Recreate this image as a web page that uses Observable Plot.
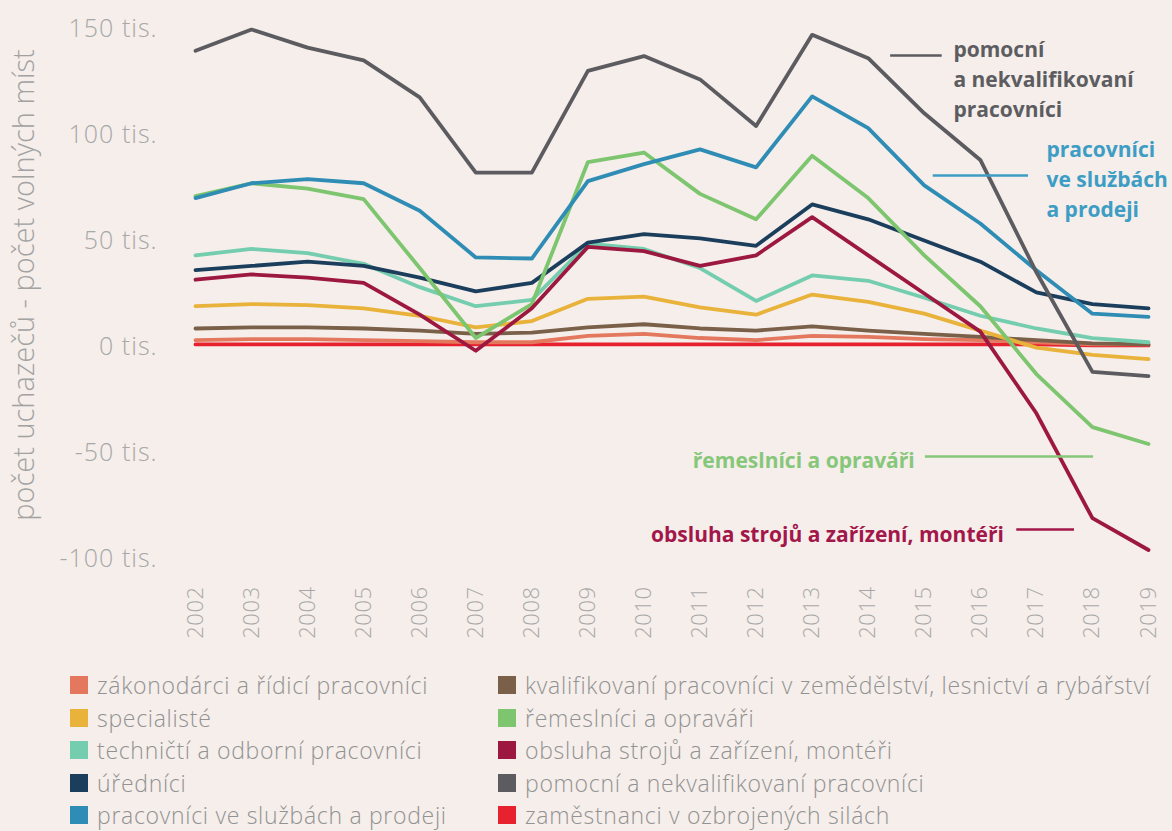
<!DOCTYPE html>
<html lang="cs">
<head>
<meta charset="utf-8">
<script src="https://cdn.jsdelivr.net/npm/d3@7"></script>
<script src="https://cdn.jsdelivr.net/npm/@observablehq/plot@0.6"></script>
<style>
  html, body { margin: 0; padding: 0; background: #f5eeea; }
  body { width: 1172px; height: 831px; overflow: hidden; font-family: "Open Sans", Lato, sans-serif; }
  #wrap { position: relative; width: 1172px; height: 831px; }
  #ytitle { position: absolute; left: 22px; top: 285px; transform: translate(-50%, -50%) rotate(-90deg);
            white-space: nowrap; font-size: 29px; color: #a2a2a2; font-weight: 300; }
  #legend { position: absolute; left: 70px; top: 669px; display: grid; grid-auto-flow: column;
            grid-template-rows: repeat(5, 32.5px); grid-template-columns: 428px 640px; }
  .item { display: flex; align-items: center; font-size: 23px; color: #929292; font-weight: 300; white-space: nowrap; letter-spacing: 0.7px; }
  .sw { width: 18px; height: 18px; margin-right: 9px; flex: none; }
  .ytick text { letter-spacing: 1px; }
  .xtick text { letter-spacing: 0.5px; }
</style>
</head>
<body>
<div id="wrap">
  <div id="chart"></div>
  <div id="ytitle">počet uchazečů - počet volných míst</div>
  <div id="legend"></div>
</div>
<script>
const years = [2002,2003,2004,2005,2006,2007,2008,2009,2010,2011,2012,2013,2014,2015,2016,2017,2018,2019];

const categories = [
  "zákonodárci a řídicí pracovníci",
  "specialisté",
  "techničtí a odborní pracovníci",
  "úředníci",
  "pracovníci ve službách a prodeji",
  "kvalifikovaní pracovníci v zemědělství, lesnictví a rybářství",
  "řemeslníci a opraváři",
  "obsluha strojů a zařízení, montéři",
  "pomocní a nekvalifikovaní pracovníci",
  "zaměstnanci v ozbrojených silách"
];
const colors = ["#e3785f","#e9b23a","#74cdae","#1c3e5d","#2f8db5","#7a6048","#7dc56e","#9d1840","#5b5b60","#e8212e"];

// values in thousands (tis.)
const zakonodarci = [3, 3.5, 3.5, 3, 2.5, 2, 2, 5, 6, 4, 3, 5, 4.5, 3.5, 3, 2, 1, 1];
const specialiste = [19, 20, 19.5, 18, 14.5, 9, 12, 22.5, 23.5, 18.5, 15, 24.5, 21, 15.5, 7.5, -0.5, -4, -6];
const technicti   = [43, 46, 44, 39, 28, 19, 22, 48.5, 46, 37, 21.5, 33.5, 31, 23, 14.5, 8.5, 4, 2];
const urednici    = [36, 38, 40, 38, 32.5, 26, 30, 49, 53, 51, 47.5, 67, 60, 50, 40, 25.5, 20, 18];
const sluzby      = [70, 77, 79, 77, 64, 42, 41.5, 78, 86, 93, 84.5, 118, 103, 76, 58, 36, 15.5, 14];
const zemedelstvi = [8.5, 9, 9, 8.5, 7.5, 6, 6.5, 9, 10.5, 8.5, 7.5, 9.5, 7.5, 6, 4.5, 3, 1.5, 1];
const remeslnici  = [71, 77, 74.5, 69.5, 37, 4, 20, 87, 91.5, 72, 60, 90, 70, 43, 19, -13, -38, -46];
const obsluha     = [31.5, 34, 32.5, 30, 15, -2, 18, 47, 45, 38, 43, 61, 43, 25, 7, -31.5, -81, -96];
const pomocni     = [139.5, 149.5, 141, 135, 117.5, 82, 82, 130, 137, 126, 104, 147, 136, 110, 88, 35, -12, -14];
const ozbrojene   = [1, 1, 1, 1, 1, 1, 1, 1, 1, 1, 1, 1, 1, 1, 1, 1, 0.5, 0.5];

const seriesValues = [zakonodarci, specialiste, technicti, urednici, sluzby, zemedelstvi, remeslnici, obsluha, pomocni, ozbrojene];

const yTicks = [-100, -50, 0, 50, 100, 150];

// annotations: text position and leader line (in data units: year, thousands)
const annoLabels = ["pomocní\na nekvalifikovaní\npracovníci", "pracovníci\nve službách\na prodeji", "řemeslníci a opraváři", "obsluha strojů a zařízení, montéři"];
const annoTextX  = [2015.52, 2017.18, 2014.83, 2016.42];
const annoTextY  = [126.9, 79.7, -52.8, -87.7];
const annoLineX1 = [2014.40, 2015.16, 2015.02, 2016.65];
const annoLineX2 = [2015.32, 2016.86, 2018.02, 2017.68];
const annoLineY  = [137.3, 80.7, -51.9, -86.3];

const annoAnchor = ["start", "start", "end", "end"];
const annoTextColors = ["#5d5d61", "#3e9dc4", "#86c77a", "#a3164a"];
const annoLineColors = ["#5b5b60", "#3e9dc4", "#86c77a", "#a3164a"];

const data = [];
categories.forEach((c, i) => years.forEach((y, j) => data.push({cat: c, year: y, value: seriesValues[i][j]})));

// draw order: armed forces first so others appear on top
const drawOrder = [9, 0, 5, 1, 2, 3, 6, 4, 7, 8];

const marks = [
  Plot.axisX({ticks: years, tickFormat: d => String(d), tickRotate: -90, tickSize: 0, tickPadding: 28,
               fontSize: 22, color: "#a8a8a8", label: null, fontWeight: 300, className: "xtick"}),
  Plot.axisY({ticks: yTicks, tickFormat: d => `${d} tis.`, tickSize: 0, tickPadding: 38,
               fontSize: 25, color: "#a8a8a8", label: null, fontWeight: 300, className: "ytick"}),
  ...drawOrder.map(i => Plot.lineY(data.filter(d => d.cat === categories[i]),
        {x: "year", y: "value", stroke: "cat", strokeWidth: 3.8, strokeLinejoin: "round", strokeLinecap: "round"})),
  ...annoLabels.map((lab, i) => Plot.ruleY([{y: annoLineY[i], x1: annoLineX1[i], x2: annoLineX2[i]}],
        {y: "y", x1: "x1", x2: "x2", stroke: annoLineColors[i], strokeWidth: 2.5})),
  ...annoLabels.map((lab, i) => Plot.text([{x: annoTextX[i], y: annoTextY[i], t: lab}],
        {x: "x", y: "y", text: "t", textAnchor: annoAnchor[i], lineAnchor: "middle", lineHeight: 1.42,
         fill: annoTextColors[i], fontWeight: "bold", fontSize: 21}))
];

const chart = Plot.plot({
  width: 1172,
  height: 650,
  marginLeft: 195,
  marginRight: 24,
  marginTop: 28,
  marginBottom: 92,
  style: {background: "transparent", fontFamily: "'Open Sans', Lato, sans-serif", overflow: "visible"},
  x: {domain: [2002, 2019]},
  y: {domain: [-100, 150]},
  color: {domain: categories, range: colors},
  marks
});
document.getElementById("chart").appendChild(chart);

const legend = document.getElementById("legend");
categories.forEach((c, i) => {
  const it = document.createElement("div");
  it.className = "item";
  const sw = document.createElement("span");
  sw.className = "sw";
  sw.style.background = colors[i];
  const tx = document.createElement("span");
  tx.textContent = c;
  it.appendChild(sw); it.appendChild(tx);
  legend.appendChild(it);
});
</script>
</body>
</html>
